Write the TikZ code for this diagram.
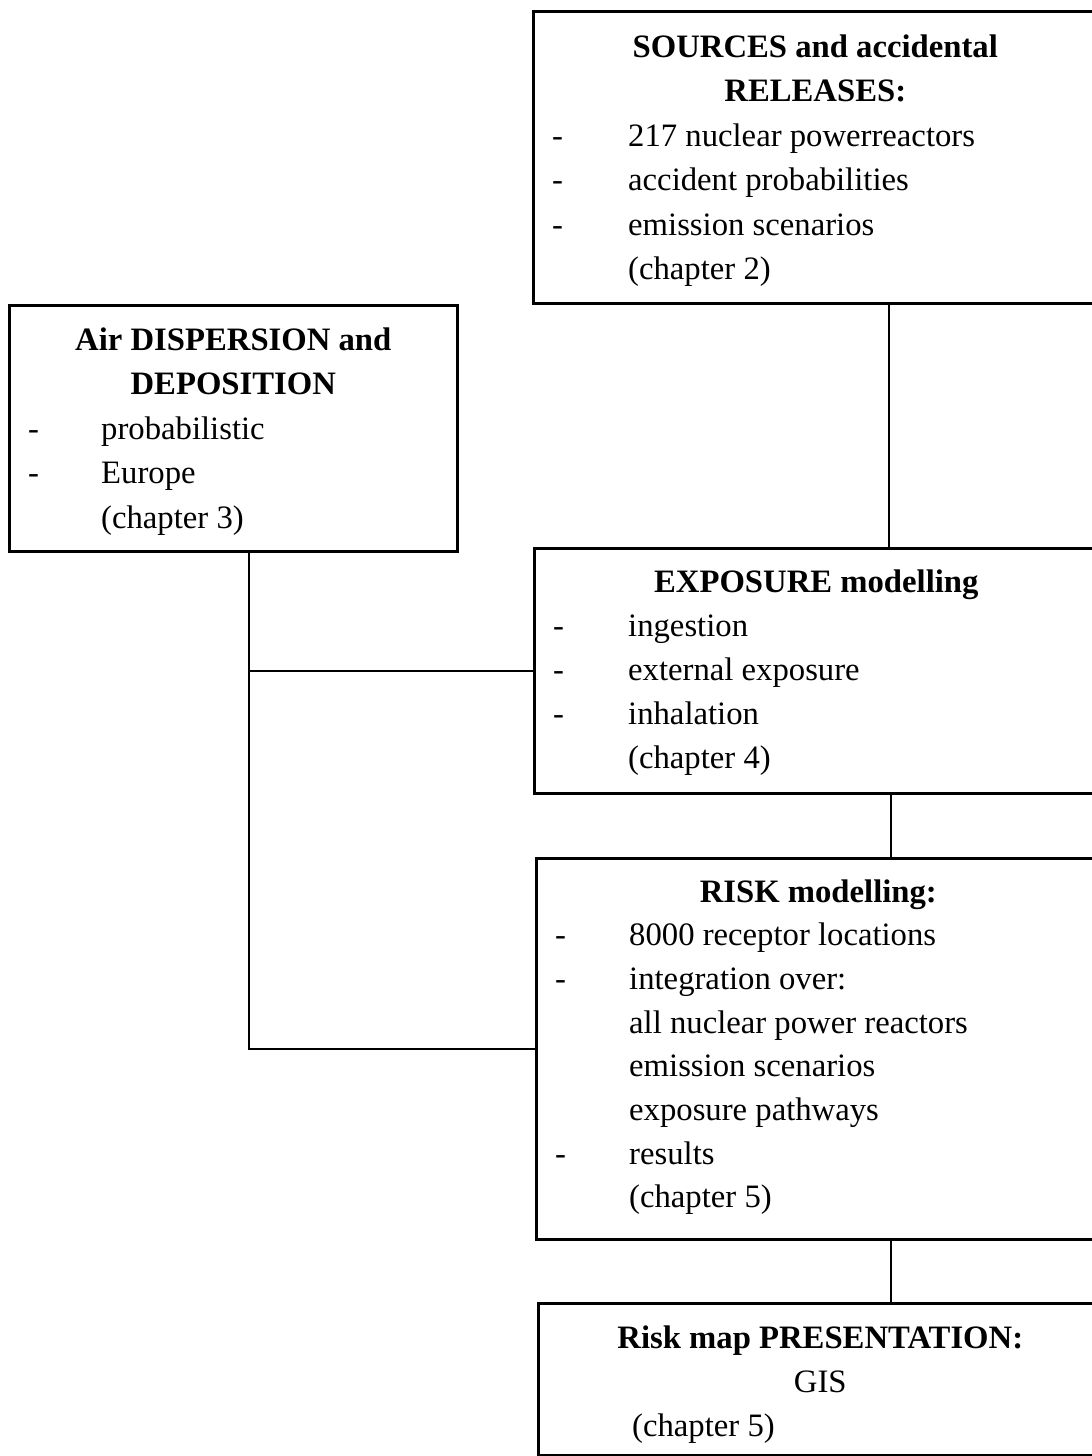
\documentclass[tikz,border=0pt]{standalone}
\usepackage{fontspec}
\setmainfont{Liberation Serif}
\newcommand{\boxfont}{\fontsize{32.7}{44}\selectfont}
\tikzset{
	box/.style={draw,line width=2.6pt,anchor=north west,inner sep=0pt,minimum width=564pt},
	head/.style={anchor=base,inner sep=0pt,font=\boxfont\bfseries},
	item/.style={anchor=base west,inner sep=0pt},
	link/.style={line width=2.2pt}
}
\begin{document}
\begin{tikzpicture}[x=1pt,y=-1pt,font=\boxfont]
	\useasboundingbox (0,0) rectangle (1092,1456);
	\clip (0,0) rectangle (1092,1456);
	
	% boxes
	\node[box,minimum height=292pt] (src) at (532,10) {};
	\node[box,minimum width=448pt,minimum height=246pt] (air) at (8,304) {};
	\node[box,minimum height=245pt] (exp) at (533,547) {};
	\node[box,minimum height=381pt] (risk) at (535,857) {};
	\node[box,minimum height=152pt] (map) at (537,1302) {};
	
	% sources
	\path ([shift={(0,47)}]src.north) node[head] (src-h1) {SOURCES and accidental}
	([shift={(0,91.5)}]src.north) node[head] (src-h2) {RELEASES:};
	\foreach \d/\t [count=\i] in {1/217 nuclear powerreactors,1/accident probabilities,1/emission scenarios,0/(chapter 2)}{
		\pgfmathsetmacro{\yy}{47+44.5*(\i+1)}
		\node[item] (src-\i) at ([shift={(96,\yy)}]src.north west) {\t};
		\ifnum\d=1 \node[item] (src-d\i) at ([shift={(20,\yy)}]src.north west) {-};\fi
	}
	
	% dispersion
	\path ([shift={(0,46)}]air.north) node[head] (air-h1) {Air DISPERSION and}
	([shift={(0,90.5)}]air.north) node[head] (air-h2) {DEPOSITION};
	\foreach \d/\t [count=\i] in {1/probabilistic,1/Europe,0/(chapter 3)}{
		\pgfmathsetmacro{\yy}{46+44.5*(\i+1)}
		\node[item] (air-\i) at ([shift={(93,\yy)}]air.north west) {\t};
		\ifnum\d=1 \node[item] (air-d\i) at ([shift={(20,\yy)}]air.north west) {-};\fi
	}
	
	% exposure
	\path ([shift={(0,45)}]exp.north) node[head] (exp-h) {EXPOSURE modelling};
	\foreach \d/\t [count=\i] in {1/ingestion,1/external exposure,1/inhalation,0/(chapter 4)}{
		\pgfmathsetmacro{\yy}{45+44*\i}
		\node[item] (exp-\i) at ([shift={(95,\yy)}]exp.north west) {\t};
		\ifnum\d=1 \node[item] (exp-d\i) at ([shift={(20,\yy)}]exp.north west) {-};\fi
	}
	
	% risk
	\path ([shift={(0,45)}]risk.north) node[head] (risk-h) {RISK modelling:};
	\foreach \d/\t [count=\i] in {1/8000 receptor locations,1/integration over:,0/all nuclear power reactors,0/emission scenarios,0/exposure pathways,1/results,0/(chapter 5)}{
		\pgfmathsetmacro{\yy}{45+43.7*\i}
		\node[item] (risk-\i) at ([shift={(94,\yy)}]risk.north west) {\t};
		\ifnum\d=1 \node[item] (risk-d\i) at ([shift={(20,\yy)}]risk.north west) {-};\fi
	}
	
	% presentation
	\path ([shift={(0,46)}]map.north) node[head] (map-h) {Risk map PRESENTATION:}
	([shift={(0,90)}]map.north) node[anchor=base,inner sep=0pt] (map-gis) {GIS}
	([shift={(95,134)}]map.north west) node[item] (map-ch) {(chapter 5)};
	
	% connectors
	\coordinate (knee1) at (air.south |- exp.west);
	\coordinate (knee2) at (air.south |- risk.west);
	\draw[link] (src.south -| 889,0) -- (exp.north -| 889,0);
	\draw[link] (exp.south -| 891,0) -- (risk.north -| 891,0);
	\draw[link] (risk.south -| 891,0) -- (map.north -| 891,0);
	\draw[link] ([xshift=16pt]air.south) -- ([xshift=16pt]knee2) -- (knee2 -| risk.west);
	\draw[link] ([xshift=16pt]knee1) -- (exp.west);
\end{tikzpicture}
\end{document}
